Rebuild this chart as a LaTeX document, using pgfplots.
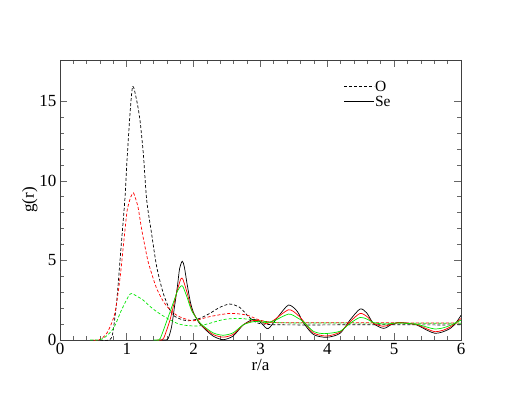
\documentclass[border=0pt]{standalone}
\usepackage{fontspec}
\setmainfont{Liberation Serif}
\usepackage{pgfplots}
\pgfplotsset{compat=1.18}
\definecolor{grred}{RGB}{255,0,0}
\definecolor{grgreen}{RGB}{0,230,0}

\newcommand{\lbl}{\fontsize{17}{20}\selectfont}

\begin{document}
\begin{tikzpicture}
\begin{axis}[
  scale only axis, width=401pt, height=280pt,
  xmin=0, xmax=6, ymin=0, ymax=17.6,
  xtick={0,1,...,6}, ytick={0,5,10,15},
  minor x tick num=4, minor y tick num=4,
  tick align=inside, major tick length=7pt, minor tick length=4pt,
  axis line style={black!75, line width=0.9pt},
  every tick/.style={black!60, line width=0.8pt},
  /pgf/number format/assume math mode=true,
  tick label style={font=\lbl},
  xlabel={r/a}, ylabel={g(r)},
  label style={font=\lbl},
  xlabel style={at={(axis description cs:0.5,-0.09)}, anchor=center},
  ylabel style={at={(axis description cs:-0.075,0.5)}, anchor=center},
  legend style={draw=none, fill=none, font=\fontsize{15.5}{16}\selectfont,
    at={(axis description cs:0.705,0.93)}, anchor=north west,
    inner sep=1pt, row sep=4pt,
    nodes={inner sep=0.5pt, text depth=0pt}},
  legend cell align=left,
  legend image code/.code={\draw[#1] (0pt,0pt) -- (30pt,0pt);},
  every axis plot/.append style={line width=0.7pt, smooth, tension=0.45},
]
% O, dashed
\addplot[black, dash pattern=on 3pt off 2pt] coordinates {
(0.60,0) (0.74,0) (0.79,0.45) (0.85,2.5) (0.91,5.65) (0.97,8.8) (1.00,11.1) (1.047,14.2)
(1.088,15.95) (1.147,15.07) (1.197,13.8) (1.247,11.7) (1.297,8.8) (1.37,6.7) (1.447,4.6)
(1.546,2.93) (1.67,1.67) (1.80,1.32) (1.92,1.21) (2.09,1.36) (2.24,1.67) (2.39,2.05)
(2.54,2.26) (2.69,2.05) (2.82,1.47) (2.94,1.09) (3.05,1.0) (3.2,0.96) (3.5,0.95)
(4.0,0.95) (4.5,0.96) (5.0,0.96) (5.5,0.95) (6.0,0.95)};
\addlegendentry{O}
% Se, solid
\addplot[black] coordinates {
(1.50,0) (1.58,0) (1.62,0.1) (1.67,0.84) (1.71,2.0) (1.756,3.35) (1.79,4.5) (1.83,4.95)
(1.86,4.6) (1.90,3.56) (1.95,2.4) (1.995,1.75) (2.07,1.15) (2.14,0.8) (2.29,0.25)
(2.44,0.02) (2.59,0.25) (2.74,0.94) (2.89,1.3) (2.99,1.15) (3.09,0.73) (3.14,0.8)
(3.27,1.5) (3.42,2.2) (3.55,1.8) (3.64,1.1) (3.79,0.35) (3.99,0.17) (4.19,0.42)
(4.34,1.26) (4.49,1.95) (4.59,1.7) (4.69,1.04) (4.84,0.73) (4.95,0.95) (5.06,1.1)
(5.2,1.05) (5.34,0.94) (5.5,0.6) (5.61,0.42) (5.72,0.5) (5.84,0.73) (5.92,1.05) (6.0,1.55)};
\addlegendentry{Se}
\addplot[grred, dash pattern=on 3pt off 2pt, forget plot] coordinates {
(0.50,0) (0.58,0) (0.70,0.42) (0.82,1.67) (0.90,3.97) (0.95,6.0) (1.00,8.0) (1.03,8.6)
(1.06,9.0) (1.097,9.25) (1.13,8.9) (1.17,8.3) (1.22,7.0) (1.27,5.9) (1.32,4.9)
(1.40,3.8) (1.45,3.2) (1.55,2.4) (1.65,1.88) (1.75,1.55) (1.85,1.36) (2.0,1.21)
(2.24,1.47) (2.54,1.67) (2.79,1.57) (2.99,1.25) (3.2,1.1) (3.5,1.08) (4.0,1.08)
(4.5,1.08) (5.0,1.08) (5.5,1.07) (6.0,1.07)};
\addplot[grgreen, dash pattern=on 3pt off 2pt, forget plot] coordinates {
(0.45,0) (0.55,0) (0.65,0.1) (0.80,0.73) (0.92,1.88) (1.05,2.89) (1.15,2.75) (1.247,2.5)
(1.35,2.1) (1.447,1.78) (1.55,1.5) (1.646,1.26) (1.745,1.06) (1.845,0.94) (2.0,0.88)
(2.1,0.9) (2.24,1.05) (2.44,1.28) (2.64,1.36) (2.84,1.3) (2.99,1.21) (3.2,1.1)
(3.5,1.07) (4.0,1.07) (4.5,1.06) (5.0,1.06) (5.5,1.05) (6.0,1.05)};
\addplot[grred, forget plot] coordinates {
(1.45,0) (1.50,0) (1.55,0.1) (1.646,1.26) (1.70,2.2) (1.76,3.2) (1.81,3.85) (1.84,3.8)
(1.90,3.0) (1.97,1.9) (2.07,1.2) (2.14,0.85) (2.29,0.35) (2.44,0.18) (2.59,0.35)
(2.74,0.95) (2.89,1.22) (2.99,1.2) (3.09,1.02) (3.2,1.25) (3.42,1.9) (3.55,1.6)
(3.64,1.2) (3.79,0.45) (3.99,0.25) (4.19,0.5) (4.34,1.15) (4.49,1.67) (4.6,1.45)
(4.69,1.05) (4.84,0.86) (4.95,0.98) (5.08,1.1) (5.34,0.96) (5.5,0.68) (5.61,0.52)
(5.72,0.6) (5.84,0.82) (6.0,1.35)};
\addplot[grgreen, forget plot] coordinates {
(1.40,0) (1.45,0) (1.50,0.1) (1.62,1.46) (1.70,2.4) (1.76,3.1) (1.81,3.39) (1.84,3.35)
(1.90,2.7) (1.97,1.85) (2.07,1.2) (2.14,0.9) (2.29,0.45) (2.44,0.3) (2.59,0.45)
(2.74,0.95) (2.89,1.15) (2.99,1.15) (3.09,1.1) (3.2,1.2) (3.42,1.63) (3.55,1.4)
(3.64,1.15) (3.79,0.55) (3.95,0.4) (4.19,0.55) (4.34,1.05) (4.49,1.42) (4.6,1.3)
(4.69,1.1) (4.84,1.0) (4.95,1.03) (5.08,1.08) (5.34,0.98) (5.5,0.8) (5.61,0.69)
(5.72,0.75) (5.84,0.92) (6.0,1.25)};
\end{axis}
\pgfresetboundingbox
\path[use as bounding box] ([xshift=-60pt,yshift=-61pt]current axis.south west) rectangle ([xshift=58pt,yshift=60pt]current axis.north east);
\end{tikzpicture}
\end{document}
